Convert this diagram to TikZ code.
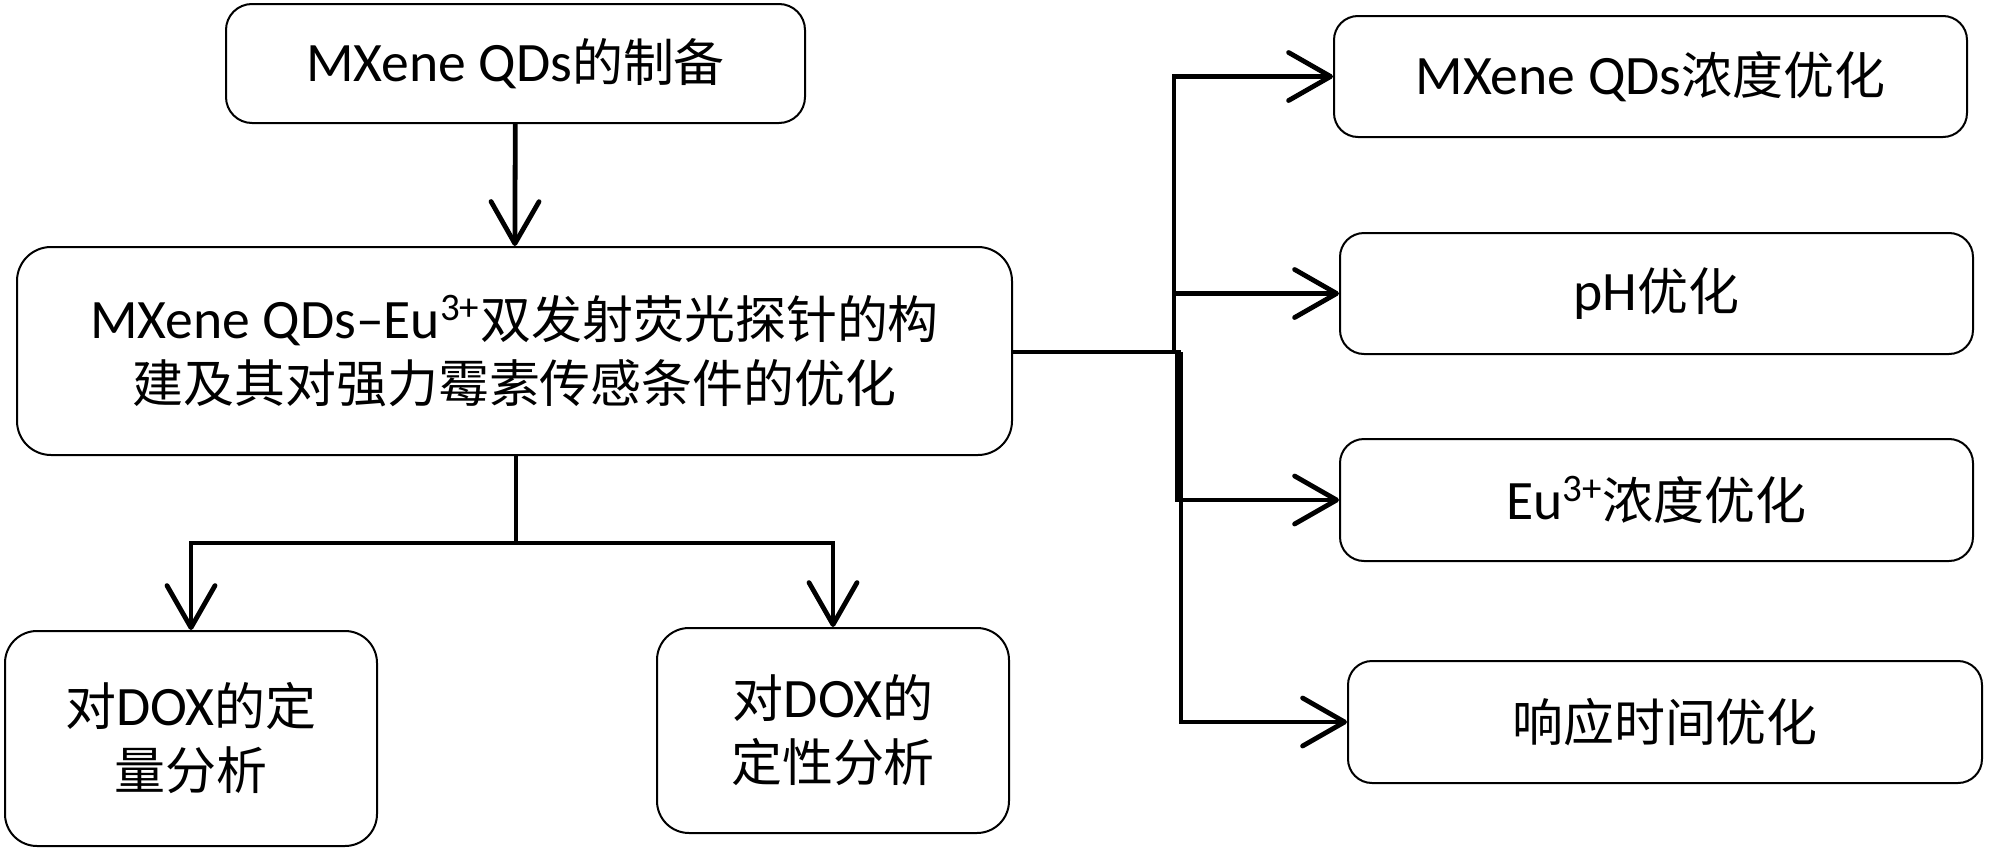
\documentclass[tikz,border=0pt]{standalone}
\usepackage{fontspec}
\setmainfont{Carlito}[Scale=1.07]
\newfontfamily\cjk{Noto Sans CJK SC}[Scale=0.98]
\usetikzlibrary{arrows.meta}

\tikzset{
  box/.style={draw, line width=1pt, rounded corners=#1, align=center, inner sep=0pt,
    font=\fontsize{26}{32}\selectfont},
  box/.default=12pt,
  link/.style={line width=2.4pt},
  arr/.style={link, -{Straight Barb[length=21pt,width=24pt,round]}},
}

\begin{document}
\begin{tikzpicture}[x=0.5pt,y=-0.5pt]
  \useasboundingbox (0,0) rectangle (1999,862);
  % left column
  \node[box=13pt, minimum width=289.5pt, minimum height=59.5pt] (prep) at (515.5,63.5) {MXene QDs{\cjk 的制备}};
  \node[box=17pt, minimum width=497.5pt, minimum height=104pt] (probe) at (514.5,351)
    {MXene QDs--Eu\textsuperscript{3+}{\cjk 双发射荧光探针的构}\\{\cjk 建及其对强力霉素传感条件的优化}};
  \node[box=16pt, minimum width=186pt, minimum height=107.5pt] (quant) at (191,738.5) {{\cjk 对}DOX{\cjk 的定}\\{\cjk 量分析}};
  \node[box=16pt, minimum width=176pt, minimum height=102.5pt] (qual) at (833,730.5) {{\cjk 对}DOX{\cjk 的}\\{\cjk 定性分析}};
  % right column
  \node[box, minimum width=316.5pt, minimum height=60.5pt] (conc) at (1650.5,76.5) {MXene QDs{\cjk 浓度优化}};
  \node[box, minimum width=316.5pt, minimum height=60.5pt] (ph) at (1656.5,293.5) {pH{\cjk 优化}};
  \node[box, minimum width=316.5pt, minimum height=61pt] (eu) at (1656.5,500) {Eu\textsuperscript{3+}{\cjk 浓度优化}};
  \node[box, minimum width=317pt, minimum height=61pt] (time) at (1665,722) {{\cjk 响应时间优化}};

  \coordinate (split) at (516,543);
  \coordinate (busa) at (1174,352);
  \coordinate (busb) at (1177,352);
  \coordinate (busc) at (1181,352);

  \draw[arr] (prep) -- (probe);
  \draw[link] (probe.south -| split) -- (split);
  \draw[arr] (split) -| (quant.north);
  \draw[arr] (split) -| (qual.north);

  \draw[link] (probe.east |- busa) -- (busc);
  \draw[arr] (busa) |- (conc.west);
  \draw[arr] (busa) |- (ph.west);
  \draw[arr] (busb) |- (eu.west);
  \draw[arr] (busc) |- (time.west);
\end{tikzpicture}
\end{document}
